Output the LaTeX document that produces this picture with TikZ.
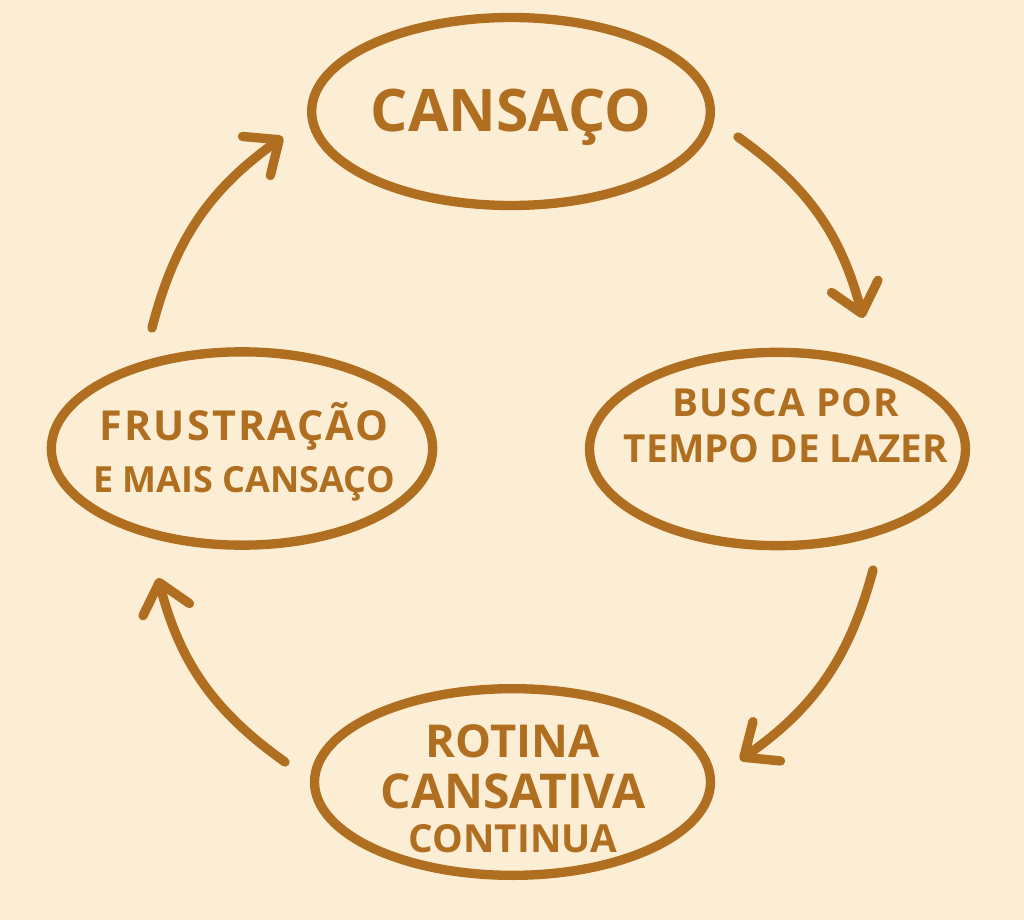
\documentclass[tikz,border=0pt]{standalone}
\usepackage{fontspec}
\setmainfont{Open Sans}
\usetikzlibrary{shapes.geometric, arrows.meta}
\definecolor{rust}{RGB}{176,110,32}
\definecolor{paper}{RGB}{252,238,212}

\begin{document}
\begin{tikzpicture}[x=0.75pt, y=-0.75pt, line width=7pt, rust,
    main/.style = {draw, ellipse, inner sep=0pt},
    txt/.style = {text=rust, align=center, anchor=base, inner sep=0pt},
    flow/.style = {line cap=round, -{Straight Barb[length=21pt, width=36pt, round]}}]
    \fill[paper] (0,0) rectangle (1024,920);
    \useasboundingbox (0,0) rectangle (1024,920);
    \node[main, minimum width=299pt, minimum height=141pt] (1) at (511,111.5) {};
    \node[main, minimum width=282pt, minimum height=145pt] (2) at (777.5,449) {};
    \node[main, minimum width=297pt, minimum height=140pt] (3) at (512.5,782) {};
    \node[main, minimum width=286pt, minimum height=145pt] (4) at (242,448.5) {};
    % texts, placed at the baseline of their last line
    \node[txt, font=\bfseries\fontsize{44}{50}\selectfont] (t1) at (511,132) {CANSAÇO};
    \node[txt, font=\bfseries\fontsize{29}{34}\selectfont] (t2) at (786,462)
        {\addfontfeature{LetterSpace=3}BUSCA POR\\TEMPO DE LAZER};
    \node[txt, font=\bfseries\fontsize{34}{38}\selectfont] (t3) at (513,852)
        {ROTINA\\{\fontsize{36}{38}\selectfont CANSATIVA}\\[-5pt]{\fontsize{29}{33}\selectfont CONTINUA}};
    \node[txt, font=\bfseries\fontsize{31}{39}\selectfont] (t4) at (244,492)
        {{\addfontfeature{LetterSpace=5}FRUSTRAÇÃO}\\{\fontsize{27}{39}\selectfont E MAIS CANSAÇO}};
    \coordinate (a1) at (738,137);  \coordinate (b1) at (863,318);
    \coordinate (a2) at (873,570);  \coordinate (b2) at (740,760);
    \coordinate (a3) at (285,762);  \coordinate (b3) at (158,578);
    \coordinate (a4) at (152,328);  \coordinate (b4) at (283,137);
    \draw[flow] (a1) to[bend left=20] (b1);
    \draw[flow] (a2) to[bend left=20] (b2);
    \draw[flow] (a3) to[bend left=20] (b3);
    \draw[flow] (a4) to[bend left=20] (b4);
\end{tikzpicture}
\end{document}
